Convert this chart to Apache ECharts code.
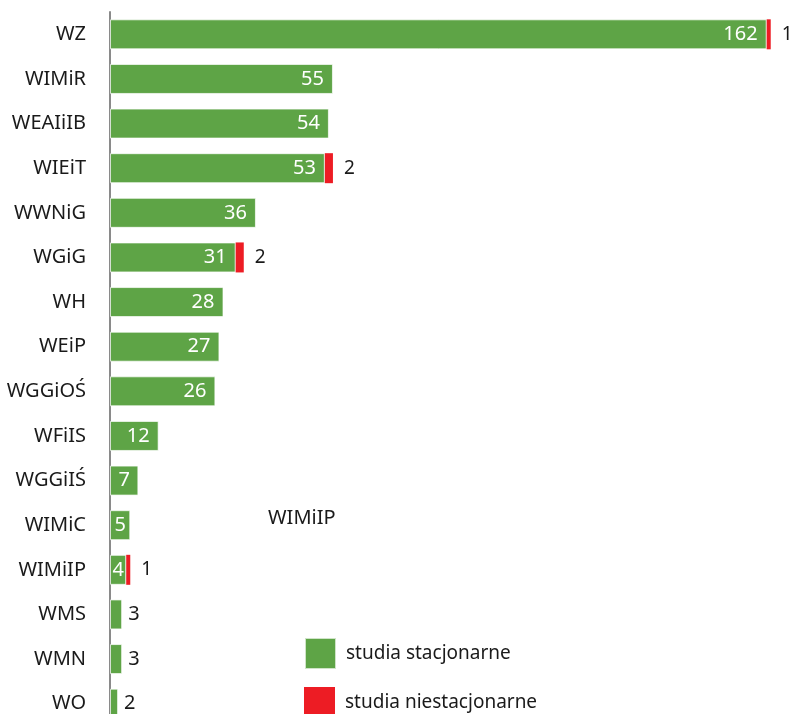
<!DOCTYPE html>
<html>
<head>
<meta charset="utf-8">
<script src="https://cdn.jsdelivr.net/npm/echarts@6/dist/echarts.min.js"></script>
<style>
  html, body { margin: 0; padding: 0; background: #fff; }
  #main { width: 795px; height: 714px; }
</style>
</head>
<body>
<div id="main"></div>
<script>
// wydziały
var categories = ['WZ', 'WIMiR', 'WEAIiIB', 'WIEiT', 'WWNiG', 'WGiG', 'WH', 'WEiP',
  'WGGiOŚ', 'WFiIS', 'WGGiIŚ', 'WIMiC', 'WIMiIP', 'WMS', 'WMN', 'WO'];
var stacjonarne = [162, 55, 54, 53, 36, 31, 28, 27, 26, 12, 7, 5, 4, 3, 3, 2];
var niestacjonarne = [1, 0, 0, 2, 0, 2, 0, 0, 0, 0, 0, 0, 1, 0, 0, 0];
var seriesNames = ['studia stacjonarne', 'studia niestacjonarne'];

var myChart = echarts.init(document.getElementById('main'));
var font = 'Noto Sans';

// wąskie słupki: etykieta na środku albo obok
var greenData = stacjonarne.map(function (v) {
  if (v <= 3) {
    return { value: v, label: { position: 'right', color: '#1a1a1a', distance: 6 } };
  }
  if (v <= 7) {
    return { value: v, label: { position: 'inside' } };
  }
  return v;
});
var redData = niestacjonarne.map(function (v) { return v === 0 ? '-' : v; });

var legendText = { fontSize: 19, fontFamily: font, color: '#1a1a1a', padding: [0, 0, 0, 5] };

option = {
  animation: false,
  backgroundColor: '#fff',
  grid: { left: 110, right: 4, top: 12, height: 714, outerBoundsMode: 'none', containLabel: false },
  xAxis: {
    type: 'value',
    min: 0,
    max: 168,
    show: false
  },
  yAxis: {
    type: 'category',
    data: categories,
    inverse: true,
    offset: 7,
    axisLine: { show: true, lineStyle: { color: '#8a8a8a', width: 2 } },
    axisTick: { show: false },
    axisLabel: { color: '#1a1a1a', fontSize: 20, fontFamily: font, margin: 17 }
  },
  legend: [
    {
      data: [seriesNames[0]],
      left: 304,
      top: 637,
      padding: 0,
      itemWidth: 31,
      itemHeight: 31,
      icon: 'rect',
      textStyle: legendText
    },
    {
      data: [seriesNames[1]],
      left: 304,
      top: 687,
      padding: 0,
      itemWidth: 31,
      itemHeight: 31,
      icon: 'rect',
      textStyle: legendText
    }
  ],
  graphic: [{
    type: 'text',
    left: 268,
    top: 508,
    style: { text: 'WIMiIP', fontSize: 20, fontFamily: font, fill: '#1a1a1a' }
  }],
  series: [
    {
      name: seriesNames[0],
      type: 'bar',
      stack: 'total',
      barWidth: 30,
      data: greenData,
      itemStyle: { color: '#5ea446', borderColor: 'rgba(255,255,255,0.7)', borderWidth: 1 },
      label: {
        show: true,
        position: 'insideRight',
        distance: 9,
        color: '#fff',
        fontSize: 20,
        fontFamily: font
      }
    },
    {
      name: seriesNames[1],
      type: 'bar',
      stack: 'total',
      barWidth: 30,
      data: redData,
      itemStyle: { color: '#ed1c24' },
      label: {
        show: true,
        position: 'right',
        distance: 11,
        color: '#1a1a1a',
        fontSize: 19,
        fontFamily: font
      }
    }
  ]
};

myChart.setOption(option);
</script>
</body>
</html>
